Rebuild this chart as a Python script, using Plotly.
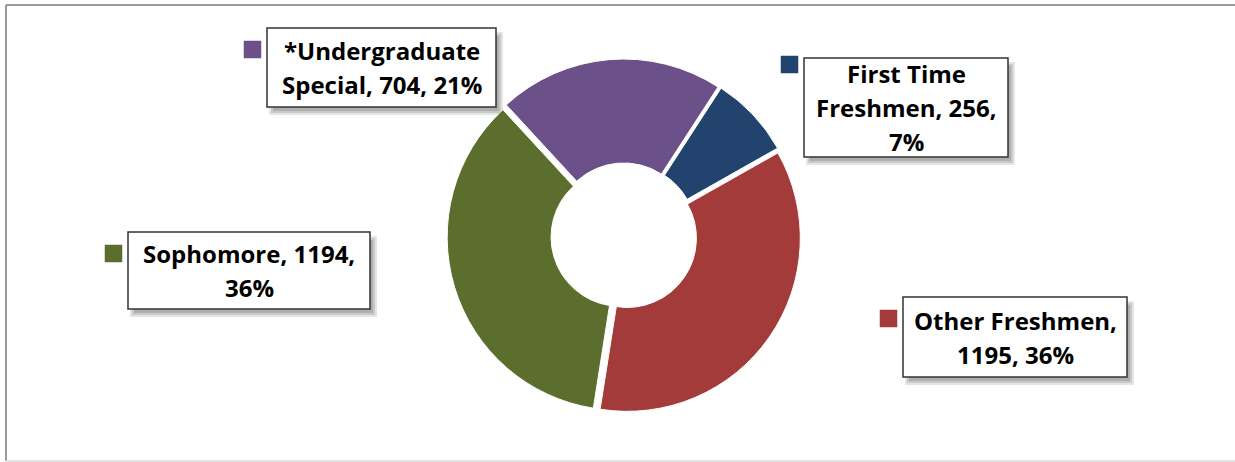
import plotly.graph_objects as go

W, H = 1235, 462

labels = ["First Time Freshmen", "Other Freshmen", "Sophomore", "*Undergraduate Special"]
values = [256, 1195, 1194, 704]
percents = ["7%", "36%", "36%", "21%"]
colors = ["#22436E", "#A23B39", "#5B6E2E", "#6B5089"]
label_lines = [
    ["First Time", "Freshmen, 256,", "7%"],
    ["Other Freshmen,", "1195, 36%"],
    ["Sophomore, 1194,", "36%"],
    ["*Undergraduate", "Special, 704, 21%"],
]

# label box geometry in pixels: (left, top, right, bottom), marker (left, top)
boxes = [
    (804, 58, 1008, 157),
    (903, 297, 1127, 377),
    (128, 232, 370, 309),
    (267, 28, 496, 107),
]
markers = [(781, 56), (880, 310), (105, 245), (244, 41)]
LINE_GAP = 34  # px between text lines


def px(x):
    return x / W


def py(y):
    return 1 - y / H


fig = go.Figure()
fig.add_trace(go.Pie(
    labels=labels,
    values=values,
    marker=dict(colors=colors, line=dict(color="white", width=1)),
    hole=0.40,
    sort=False,
    direction="clockwise",
    rotation=33,
    pull=[0.022, 0.022, 0.022, 0.022],
    textinfo="none",
    hoverinfo="skip",
    showlegend=False,
    domain=dict(x=[px(624 - 200), px(624 + 200)], y=[py(413), py(59)]),
))

shapes = []
# chart frame
shapes.append(dict(type="line", xref="paper", yref="paper", x0=px(6), x1=px(1240), y0=py(5), y1=py(5),
                   line=dict(color="#9a9a9a", width=2)))
shapes.append(dict(type="line", xref="paper", yref="paper", x0=px(6), x1=px(6), y0=py(5), y1=py(461),
                   line=dict(color="#9a9a9a", width=2)))
shapes.append(dict(type="line", xref="paper", yref="paper", x0=px(6), x1=px(1240), y0=py(461), y1=py(461),
                   line=dict(color="#e2e2e2", width=2)))

annotations = []
for (l, t, r, b), (mx, my), lines, col in zip(boxes, markers, label_lines, colors):
    # soft shadow
    for k, op in [(0, 0.15), (2, 0.18), (4, 0.22)]:
        shapes.append(dict(type="rect", xref="paper", yref="paper",
                           x0=px(l + 2 + k), x1=px(r + 7 - k), y0=py(t + 4 + k), y1=py(b + 8 - k),
                           fillcolor="#505050", opacity=op, line=dict(width=0), layer="above"))
    # box
    shapes.append(dict(type="rect", xref="paper", yref="paper",
                       x0=px(l), x1=px(r), y0=py(t), y1=py(b),
                       fillcolor="white", line=dict(color="#333333", width=1.5), layer="above"))
    # marker square
    shapes.append(dict(type="rect", xref="paper", yref="paper",
                       x0=px(mx), x1=px(mx + 17), y0=py(my), y1=py(my + 17),
                       fillcolor=col, line=dict(color=col, width=0.5), layer="above"))
    n = len(lines)
    cy = (t + b) / 2
    for i, s in enumerate(lines):
        yy = cy + (i - (n - 1) / 2) * LINE_GAP
        annotations.append(dict(
            x=px((l + r) / 2), y=py(yy), xref="paper", yref="paper",
            xanchor="center", yanchor="middle",
            text=s, showarrow=False,
            font=dict(family="Open Sans, sans-serif", size=24, color="black", weight="bold"),
        ))

fig.update_layout(
    width=W, height=H,
    margin=dict(l=0, r=0, t=0, b=0),
    paper_bgcolor="white", plot_bgcolor="white",
    shapes=shapes, annotations=annotations,
)

fig.write_html(
    "out.html",
    config={"displayModeBar": False},
    post_script="document.body.style.margin='0';document.body.style.overflow='hidden';",
)
